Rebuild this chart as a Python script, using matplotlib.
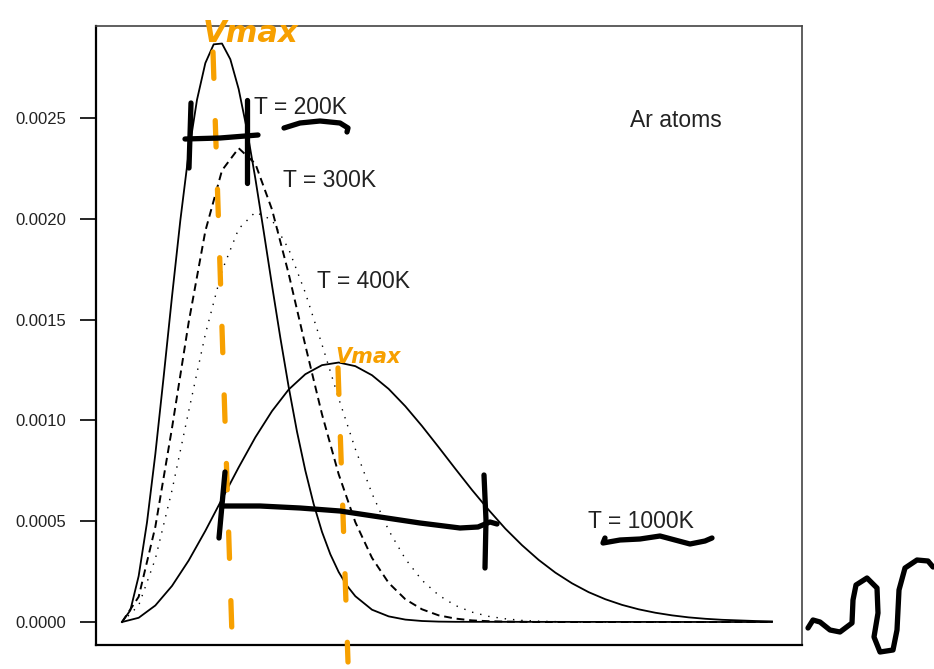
import matplotlib
matplotlib.use("Agg")
import matplotlib.pyplot as plt

# speeds (m/s) and f(v)
speed_200 = [0, 25, 50, 75, 100, 125, 150, 175, 200, 225, 250, 275, 300, 325, 350,
             375, 400, 425, 450, 475, 500, 525, 550, 575, 600, 625, 650, 675, 700,
             750, 800, 850, 900, 950, 1000, 1950]
f_200 = [0, 0.000058, 0.000228, 0.000494, 0.000833, 0.001217, 0.001614, 0.001992,
         0.002325, 0.002590, 0.002772, 0.002865, 0.002869, 0.002791, 0.002643,
         0.002440, 0.002200, 0.001938, 0.001670, 0.001410, 0.001166, 0.000944,
         0.000751, 0.000585, 0.000447, 0.000336, 0.000248, 0.000180, 0.000128,
         0.000061, 0.000028, 0.000012, 0.000005, 0.000002, 0.000001, 0]

speed = [0, 50, 100, 150, 200, 250, 300, 350, 400, 450, 500, 550, 600, 650, 700,
         750, 800, 850, 900, 950, 1000, 1050, 1100, 1150, 1200, 1250, 1300, 1350,
         1400, 1450, 1500, 1550, 1600, 1650, 1700, 1750, 1800, 1850, 1900, 1950]
f_300 = [0, 0.000125, 0.000472, 0.000962, 0.001486, 0.001939, 0.002240, 0.002350,
         0.002273, 0.002046, 0.001727, 0.001372, 0.001030, 0.000733, 0.000495,
         0.000318, 0.000194, 0.000113, 0.000063, 0.000033, 0.000017, 0.000008,
         0.000004, 0.000002, 0.000001] + [0] * 15
f_400 = [0, 0.000082, 0.000313, 0.000653, 0.001045, 0.001427, 0.001742, 0.001950,
         0.002033, 0.001994, 0.001850, 0.001633, 0.001376, 0.001109, 0.000858,
         0.000637, 0.000455, 0.000313, 0.000207, 0.000133, 0.000082, 0.000049,
         0.000028, 0.000016, 0.000008, 0.000004, 0.000002, 0.000001] + [0] * 12
f_1000 = [0, 0.000021, 0.000082, 0.000179, 0.000305, 0.000452, 0.000610, 0.000767,
          0.000916, 0.001046, 0.001153, 0.001229, 0.001274, 0.001287, 0.001269,
          0.001224, 0.001156, 0.001070, 0.000972, 0.000867, 0.000760, 0.000655,
          0.000556, 0.000463, 0.000381, 0.000308, 0.000245, 0.000192, 0.000148,
          0.000113, 0.000085, 0.000063, 0.000046, 0.000033, 0.000023, 0.000016,
          0.000011, 0.000008, 0.000005, 0.000003]

yticks = [0.0, 0.0005, 0.0010, 0.0015, 0.0020, 0.0025]

# curve labels (axes fraction)
labels = ["T = 200K", "T = 300K", "T = 400K", "T = 1000K", "Ar atoms"]
label_pos = [(0.224, 0.868), (0.265, 0.750), (0.313, 0.588), (0.697, 0.199), (0.756, 0.848)]

# hand-drawn marks on top of the chart (image pixels)
orange = "#f7a000"
vmax_lines = [[(213, 52), (233, 666)], [(338, 368), (348, 662)]]
vmax_text = [(250, 34, 22), (368, 357, 15)]
black_strokes = [
    [(185, 139), (220, 138), (258, 135)],
    [(191, 103), (189, 168)],
    [(247, 100), (247, 183)],
    [(222, 506), (260, 506), (300, 508), (340, 511), (380, 517), (420, 523),
     (460, 528), (478, 527), (490, 522), (497, 524)],
    [(225, 472), (219, 538)],
    [(484, 475), (486, 520), (485, 568)],
    [(284, 128), (300, 123), (320, 121), (340, 123), (348, 128), (347, 132)],
    [(605, 538), (603, 543), (620, 540), (640, 539), (660, 536), (675, 540),
     (690, 544), (705, 541), (712, 538)],
    [(808, 628), (813, 620), (820, 622), (830, 630), (840, 632), (852, 623),
     (853, 600), (856, 585), (867, 578), (877, 588), (878, 613), (874, 637),
     (880, 652), (893, 650), (897, 630), (899, 590), (905, 568), (917, 560),
     (928, 561), (933, 567)],
]

plt.rcParams["font.family"] = ["Liberation Sans", "DejaVu Sans"]
fig = plt.figure(figsize=(9.34, 6.69), dpi=100)
ax = fig.add_axes([96 / 934, 24 / 669, 706 / 934, 619 / 669])

ax.plot(speed_200, f_200, color="black", lw=1.3)
ax.plot(speed, f_300, color="black", lw=1.4, linestyle=(0, (4, 2.5)))
ax.plot(speed, f_400, color="black", lw=1.0, linestyle=(0, (1, 5)))
ax.plot(speed, f_1000, color="black", lw=1.3)

ax.set_xlim(-78, 2040)
ax.set_ylim(-0.000114, 0.002956)
ax.set_xticks([])
ax.set_yticks(yticks)
ax.set_yticklabels(["%.4f" % t for t in yticks])
ax.tick_params(axis="y", direction="out", length=11.5, width=1.2, pad=10,
               labelsize=12, labelcolor="#222222")
for side in ["left", "bottom"]:
    ax.spines[side].set_linewidth(1.6)
for side in ["top", "right"]:
    ax.spines[side].set_linewidth(1.2)
    ax.spines[side].set_color("#444444")

for txt, (x, y) in zip(labels, label_pos):
    ax.text(x, y, txt, transform=ax.transAxes, ha="left", va="center",
            fontsize=16.5, color="#222222")

# overlay for the hand-drawn annotations
ov = fig.add_axes([0, 0, 1, 1], facecolor="none")
ov.set_xlim(0, 934)
ov.set_ylim(669, 0)
ov.axis("off")
for line in vmax_lines:
    xs, ys = zip(*line)
    ov.plot(xs, ys, color=orange, lw=3.8, linestyle=(0, (5, 8)),
            dash_capstyle="round")
for x, y, s in vmax_text:
    ov.text(x, y, "Vmax", color=orange, fontsize=s, fontstyle="italic",
            fontweight="bold", family="DejaVu Sans", ha="center", va="center")
for stroke in black_strokes:
    xs, ys = zip(*stroke)
    ov.plot(xs, ys, color="black", lw=3.8, solid_capstyle="round",
            solid_joinstyle="round")

fig.savefig("out.png", dpi=100)
